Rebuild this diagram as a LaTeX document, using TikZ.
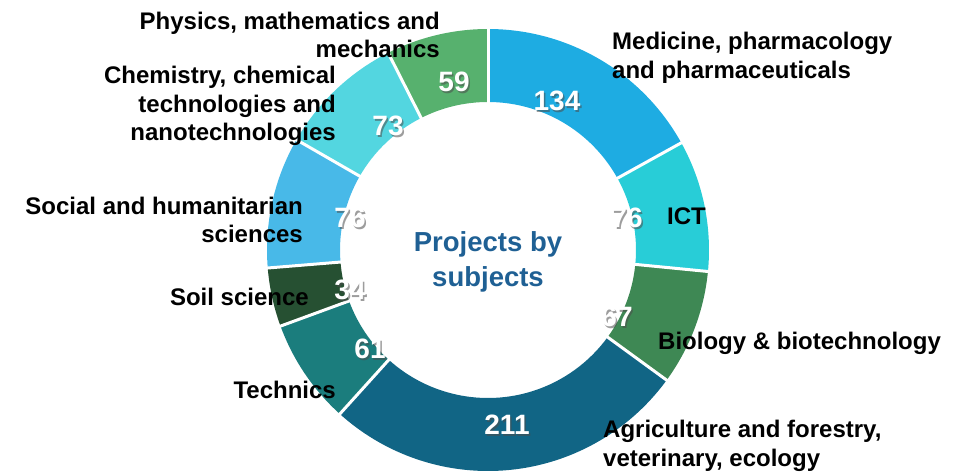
\documentclass[tikz,border=0pt]{standalone}
\usepackage{fontspec}
\setmainfont{Liberation Sans}
\definecolor{cMed}{RGB}{30,172,226}
\definecolor{cICT}{RGB}{40,205,215}
\definecolor{cBio}{RGB}{62,136,84}
\definecolor{cAgr}{RGB}{17,101,133}
\definecolor{cTec}{RGB}{27,125,125}
\definecolor{cSoil}{RGB}{38,80,50}
\definecolor{cSoc}{RGB}{72,185,232}
\definecolor{cChem}{RGB}{83,214,224}
\definecolor{cPhys}{RGB}{87,177,110}
\definecolor{cCenter}{RGB}{31,96,148}
\tikzset{
  catlabel/.style={font=\fontsize{24}{28.5}\selectfont\bfseries, text=black, inner sep=0pt},
  vallabel/.style={font=\fontsize{28}{30}\selectfont\bfseries, text=white, inner sep=0pt},
  valshadow/.style={font=\fontsize{28}{30}\selectfont\bfseries, text=black!70, opacity=0.55, inner sep=0pt},
  centerlabel/.style={font=\fontsize{27.5}{35}\selectfont\bfseries, text=cCenter, align=center, inner sep=0pt},
  gapline/.style={white, line width=3pt}
}
\begin{document}
\begin{tikzpicture}[x=1pt,y=1pt]
\useasboundingbox (0,0) rectangle (966,472);
\begin{scope}[shift={(488,222)}]
  \foreach \a/\b/\c in {90/29.01/cMed, 29.01/-5.58/cICT, -5.58/-36.07/cBio, -36.07/-132.10/cAgr, -132.10/-159.86/cTec, -159.86/-175.33/cSoil, -175.33/-209.92/cSoc, -209.92/-243.14/cChem, -243.14/-270/cPhys}{
    \fill[\c] (\a:221pt) arc[start angle=\a, end angle=\b, radius=221pt] -- (\b:148pt) arc[start angle=\b, end angle=\a, radius=148pt] -- cycle;
  }
  \foreach \a in {90,29.01,-5.58,-36.07,-132.10,-159.86,-175.33,-209.92,-243.14}{
    \draw[gapline] (\a:146pt) -- (\a:224pt);
  }
\end{scope}
% value labels
\foreach \n/\x/\y/\v in {v134/557/371/134, v76a/627/254/76, v67/617/155/67, v211/507/47/211, v61/370/123/61, v34/350/182/34, v76b/350/254/76, v73/388/346/73, v59/454/390/59}{
  \node[valshadow] at (\x+1.5,\y-1.5) {\v};
  \node[vallabel] (\n) at (\x,\y) {\v};
}
% center
\node[centerlabel] (center) at (488,210) {Projects by\\subjects};
% category labels
\node[catlabel, anchor=east, align=right] (phys) at (440,437) {Physics, mathematics and\\mechanics};
\node[catlabel, anchor=west, align=left] (med) at (612,414) {Medicine, pharmacology\\and pharmaceuticals};
\node[catlabel, anchor=west] (ict) at (667,256) {ICT};
\node[catlabel, anchor=west] (bio) at (658,129) {Biology \& biotechnology};
\node[catlabel, anchor=west, align=left] (agr) at (603,26) {Agriculture and forestry,\\veterinary, ecology};
\node[catlabel, anchor=east] (tec) at (336,82) {Technics};
\node[catlabel, anchor=east] (soil) at (309,175) {Soil science};
\node[catlabel, anchor=east, align=right] (soc) at (303,252) {Social and humanitarian\\sciences};
\node[catlabel, anchor=east, align=right] (chem) at (336,366) {Chemistry, chemical\\technologies and\\nanotechnologies};
\end{tikzpicture}
\end{document}
